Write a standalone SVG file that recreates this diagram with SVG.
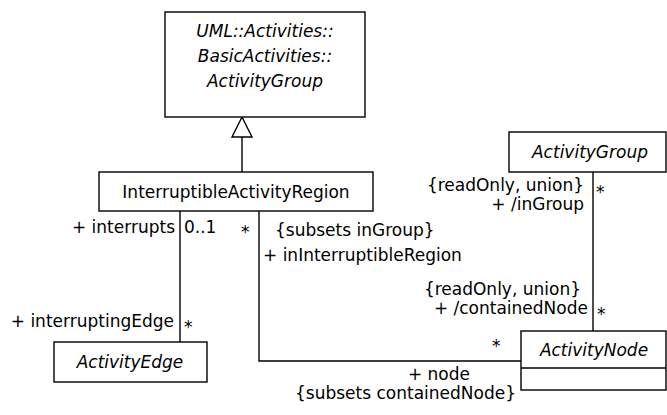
<svg xmlns="http://www.w3.org/2000/svg" width="667" height="415" viewBox="0 0 667 415">
<style>
.box{fill:#fff;stroke:#000;stroke-width:1.4}
.ln{fill:none;stroke:#000;stroke-width:1.4}
text{font-family:"DejaVu Sans","Liberation Sans",sans-serif;font-size:17px;fill:#000}
.it{font-style:italic}
.c{text-anchor:middle}
.e{text-anchor:end}
</style>
<rect width="667" height="415" fill="#fff"/>
<g id="connectors">
<polyline class="ln" points="242,137 242,172"/>
<polygon class="box" points="242,117 232,137 252,137"/>
<polyline class="ln" points="180,211 180,342"/>
<polyline class="ln" points="259,211 259,361 521,361"/>
<polyline class="ln" points="593,172 593,331"/>
</g>
<g id="labels">
<text class="e" x="175" y="233">+ interrupts</text>
<text x="184" y="233">0..1</text>
<text x="241" y="238">*</text>
<text x="275" y="236">{subsets inGroup}</text>
<text x="263" y="261">+ inInterruptibleRegion</text>
<text class="e" x="174" y="327">+ interruptingEdge</text>
<text x="184" y="333">*</text>
<text class="e" x="584" y="191">{readOnly, union}</text>
<text class="e" x="584" y="210">+ /inGroup</text>
<text x="596" y="198">*</text>
<text class="e" x="581" y="295">{readOnly, union}</text>
<text class="e" x="588" y="314">+ /containedNode</text>
<text x="597" y="320">*</text>
<text x="492" y="352">*</text>
<text class="e" x="470" y="380">+ node</text>
<text class="e" x="516" y="399">{subsets containedNode}</text>
</g>
<g id="ActivityGroupTop">
<rect class="box" x="165" y="12" width="200" height="105"/>
<text class="it c" x="265" y="37">UML::Activities::</text>
<text class="it c" x="265" y="62">BasicActivities::</text>
<text class="it c" x="265" y="87">ActivityGroup</text>
</g>
<g id="InterruptibleActivityRegion">
<rect class="box" x="99" y="172" width="274" height="39"/>
<text class="c" x="236" y="198">InterruptibleActivityRegion</text>
</g>
<g id="ActivityEdge">
<rect class="box" x="54" y="342" width="153" height="40"/>
<text class="it c" x="130" y="368">ActivityEdge</text>
</g>
<g id="ActivityGroup">
<rect class="box" x="509" y="132" width="157" height="40"/>
<text class="it c" x="590" y="158">ActivityGroup</text>
</g>
<g id="ActivityNode">
<rect class="box" x="521" y="331" width="145" height="59"/>
<line class="ln" x1="521" y1="368" x2="666" y2="368"/>
<text class="it c" x="594" y="356">ActivityNode</text>
</g>
</svg>
